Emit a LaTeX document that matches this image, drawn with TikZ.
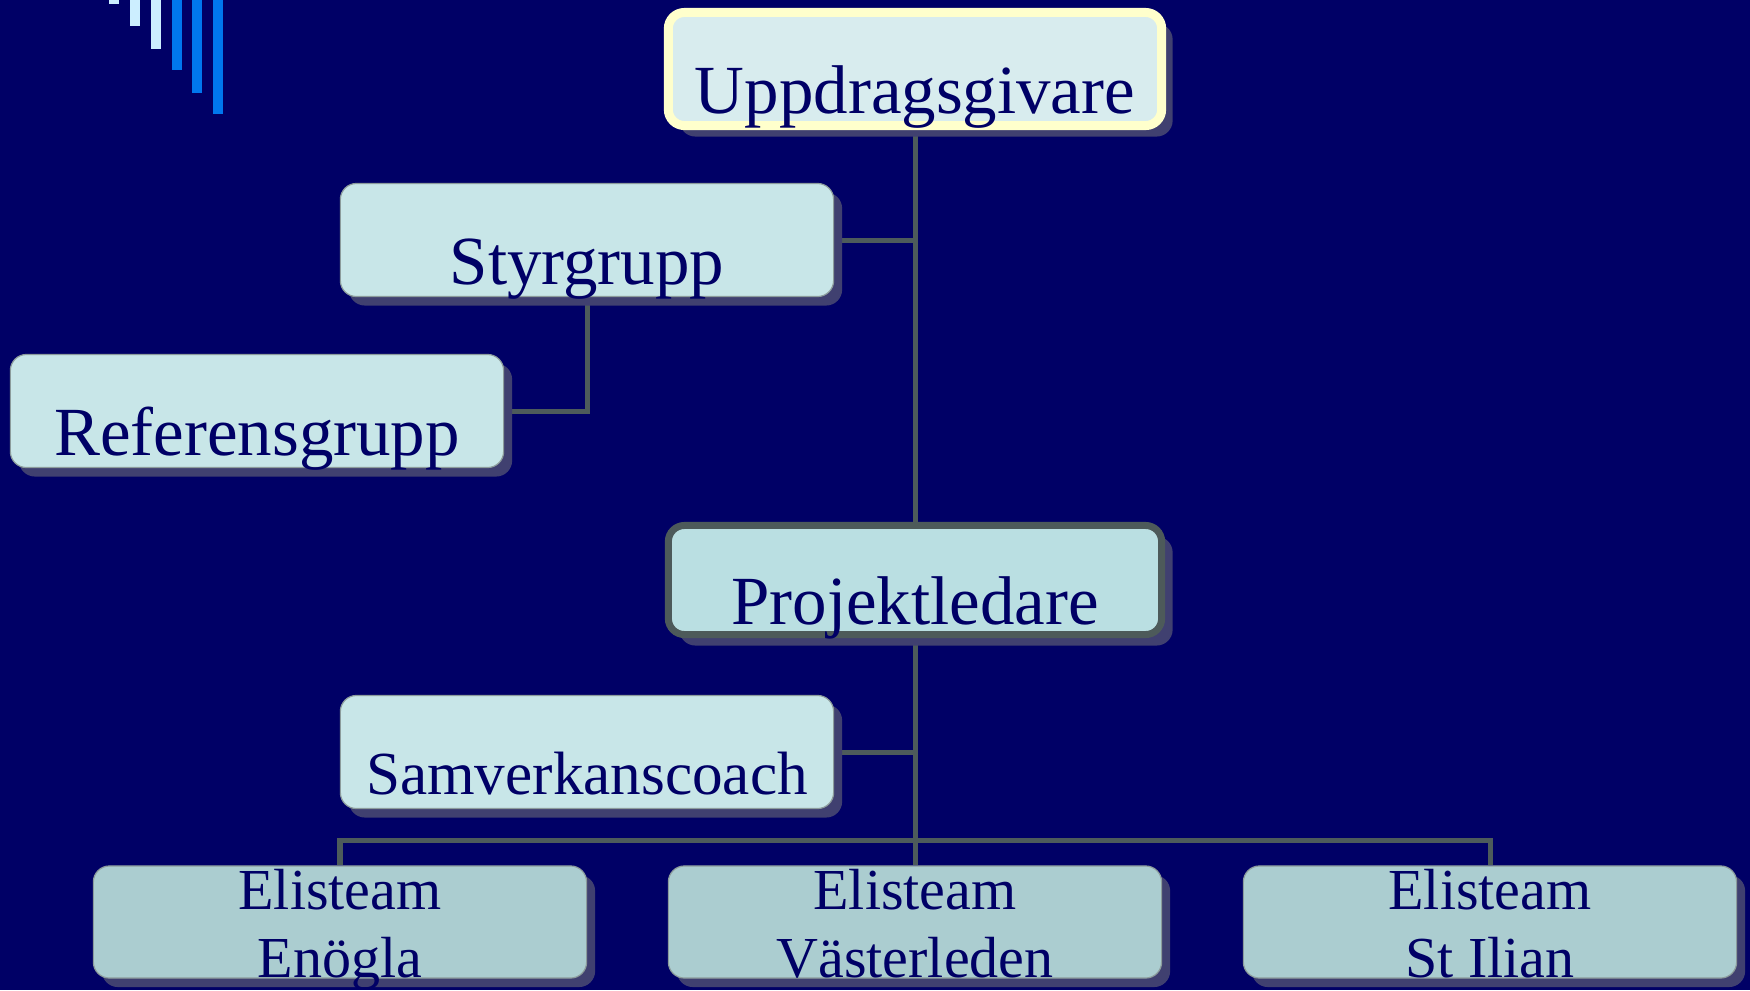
\documentclass[tikz,border=0pt]{standalone}
\usepackage{fontspec}
\setmainfont{Liberation Serif}
\usetikzlibrary{shadows,backgrounds}

\definecolor{navy}{HTML}{000066}
\definecolor{topfill}{HTML}{D8ECEE}
\definecolor{midfill}{HTML}{C8E6E8}
\definecolor{plfill}{HTML}{BADFE2}
\definecolor{teamfill}{HTML}{ABCDD0}
\definecolor{yellowedge}{HTML}{FFFFCC}
\definecolor{pledge}{HTML}{4D5A5A}
\definecolor{thinedge}{HTML}{8C9C9C}
\definecolor{linkc}{HTML}{4D5B5B}
\definecolor{shadowc}{HTML}{404070}
\definecolor{barlight}{HTML}{CCEEFF}
\definecolor{bardark}{HTML}{0077EE}

\newcommand\orgfont{\fontsize{19.6pt}{23pt}\selectfont}
\newcommand\coachfont{\fontsize{17.4pt}{21pt}\selectfont}
\newcommand\teamfont{\fontsize{16.5pt}{19.3pt}\selectfont}

\tikzset{
  orgbox/.style={rectangle, rounded corners=0.16cm, fill=midfill, text=navy,
    font=\orgfont, inner sep=0pt, minimum width=4.93cm,
    text height=1.01cm, text depth=0.12cm},
  thinbox/.style={orgbox, draw=thinedge, line width=0.012cm,
    drop shadow={shadow xshift=0.085cm, shadow yshift=-0.09cm, fill=shadowc, opacity=1}},
  thickbox/.style={orgbox,
    drop shadow={shadow xshift=0.11cm, shadow yshift=-0.11cm, fill=shadowc, opacity=1}},
  teambox/.style={thinbox, fill=teamfill, font=\teamfont, align=center,
    text height=1.11cm, text depth=0.01cm},
  link/.style={draw=linkc, line width=0.05cm},
}

\begin{document}
\begin{tikzpicture}[x=0.01cm,y=-0.01cm]
\useasboundingbox (0,0) rectangle (1750,990);

% boxes
\node[thickbox, fill=topfill, draw=yellowedge, line width=0.09cm] (top) at (915,69) {Uppdragsgivare};
\node[thinbox] (sg) at (587,240) {Styrgrupp};
\node[thinbox] (rg) at (257,411) {Referensgrupp};
\node[thickbox, fill=plfill, draw=pledge, line width=0.07cm,
      text height=0.99cm, text depth=0.10cm] (pl) at (915,580) {Projektledare};
\node[thinbox, font=\coachfont, text height=0.99cm, text depth=0.14cm] (sc) at (587,752) {Samverkanscoach};
\node[teambox] (en) at (340,922) {Elisteam\\Enögla};
\node[teambox] (vl) at (915,922) {Elisteam\\Västerleden};
\node[teambox] (si) at (1490,922) {Elisteam\\St Ilian};
\coordinate (bus) at (915,840);

\begin{scope}[on background layer]
  \fill[navy] (0,0) rectangle (1750,990);
  % corner bars
  \foreach \x/\h/\c in {109/4/barlight, 130/26/barlight, 151/49/barlight,
                        172/70/bardark, 192/93/bardark, 213/114/bardark}
    \fill[\c] (\x,0) rectangle ++(10,\h);
  % connectors
  \draw[link] (top.south) -- (pl.north);
  \draw[link] (sg.east) -- (sg.east -| top.south);
  \draw[link] (sg.south) |- (rg.east);
  \draw[link] (sc.east) -- (sc.east -| pl.south);
  \draw[link] (pl.south) -- (vl.north);
  \draw[link] (en.north) |- (bus) -| (si.north);
\end{scope}
\end{tikzpicture}
\end{document}
